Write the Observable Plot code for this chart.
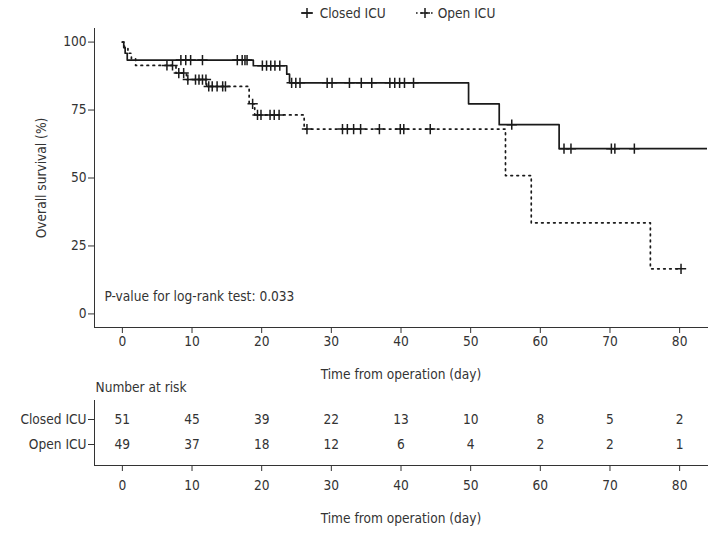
<!DOCTYPE html>
<html>
<head>
<meta charset="utf-8">
<script src="https://cdn.jsdelivr.net/npm/d3@7"></script>
<script src="https://cdn.jsdelivr.net/npm/@observablehq/plot@0.6"></script>
<style>
  body { margin: 0; background: #fff; }
  #wrap { width: 724px; font-family: "Liberation Sans Narrow", "DejaVu Sans Condensed", "Roboto", sans-serif; color: #333; }
  #legend { height: 26px; box-sizing: border-box; display: flex; justify-content: center; align-items: center; gap: 30px; padding-left: 86px; padding-right: 17px; font-size: 13.6px; }
  #legend .item { display: flex; align-items: center; gap: 4px; }
  svg { display: block; }
</style>
</head>
<body>
<div id="wrap">
  <div id="legend"></div>
  <div id="km"></div>
  <div id="risk"></div>
</div>
<script>
// ---------- data ----------
const groups = ["Closed ICU", "Open ICU"];

// Kaplan-Meier step points (time in days, survival in %)
const closedTime = [0, 0.2, 0.4, 0.7, 18.8, 23.6, 24.0, 49.7, 54.1, 62.7, 88];
const closedSurv = [100, 98.0, 95.9, 93.4, 91.3, 88.2, 85.0, 77.3, 69.6, 60.8, 60.8];
const closedCensor = [8.4, 9.1, 9.8, 11.5, 16.5, 17.2, 17.6, 17.9, 20.1, 20.7, 21.3, 21.9, 22.6, 24.3, 24.9, 25.5,
  29.4, 30.1, 32.6, 34.3, 35.8, 38.4, 39.1, 39.8, 40.5, 41.8, 55.9, 63.4, 64.4, 70.2, 70.7, 73.5];

const openTime = [0, 0.3, 0.8, 1.3, 1.9, 7.7, 9.2, 12.1, 18.2, 19.0, 26.1, 55.0, 58.7, 75.8, 80.2];
const openSurv = [100, 97.9, 95.9, 93.9, 91.4, 88.6, 86.2, 83.7, 77.3, 73.2, 68.0, 50.9, 33.5, 16.6, 16.6];
const openCensor = [6.4, 7.2, 8.1, 8.8, 9.4, 10.5, 11.0, 11.5, 12.0, 12.4, 12.9, 13.6, 14.4, 14.8, 18.7,
  19.4, 19.9, 21.2, 21.8, 22.5, 26.5, 31.6, 32.3, 33.2, 34.2, 36.9, 39.9, 40.4, 44.2, 80.2];

// number at risk table
const riskTimes = [0, 10, 20, 30, 40, 50, 60, 70, 80];
const riskClosed = [51, 45, 39, 22, 13, 10, 8, 5, 2];
const riskOpen = [49, 37, 18, 12, 6, 4, 2, 2, 1];

const yTicks = [0, 25, 50, 75, 100];
const pValueText = "P-value for log-rank test: 0.033";
const xLabel = "Time from operation (day)";
const yLabel = "Overall survival (%)";

// ---------- derived tables ----------
function curve(times, surv) { return times.map((t, i) => ({time: t, surv: surv[i]})); }
function censorPts(censor, times, surv) {
  return censor.map(t => {
    const i = d3.bisectRight(times, t) - 1;
    return {time: t, surv: surv[Math.max(0, i)]};
  });
}
const closedCurve = curve(closedTime, closedSurv);
const openCurve = curve(openTime, openSurv);
const closedMarks = censorPts(closedCensor, closedTime, closedSurv);
const openMarks = censorPts(openCensor, openTime, openSurv);
const riskRows = [
  ...riskTimes.map((t, i) => ({time: t, group: groups[0], n: riskClosed[i]})),
  ...riskTimes.map((t, i) => ({time: t, group: groups[1], n: riskOpen[i]}))
];

const FONT = '"Liberation Sans Narrow", "DejaVu Sans Condensed", "Roboto", sans-serif';
const FS = 13.6;
const INK = "#1a1a1a";
const AXIS = "#333";
const DOTS = "1.6,4.4";
const xDomain = [-4, 84];

// ---------- legend ----------
const legend = document.getElementById("legend");
groups.forEach((g, i) => {
  const item = document.createElement("div");
  item.className = "item";
  const dash = i === 1 ? `stroke-dasharray="1.6,3.4"` : "";
  const lineX1 = i === 1 ? 0 : 3;
  const lineX2 = i === 1 ? 18 : 15;
  item.innerHTML = `<svg width="18" height="14" viewBox="0 0 18 14">
      <line x1="${lineX1}" x2="${lineX2}" y1="7" y2="7" stroke="${INK}" stroke-width="1.5" ${dash}/>
      <line x1="9" x2="9" y1="2" y2="12" stroke="${INK}" stroke-width="1.5"/>
      <line x1="4" x2="14" y1="7" y2="7" stroke="${INK}" stroke-width="1.5"/>
    </svg><span>${g}</span>`;
  legend.appendChild(item);
});

// ---------- KM plot ----------
const km = Plot.plot({
  width: 724,
  height: 354,
  marginLeft: 94,
  marginRight: 17,
  marginTop: 2,
  marginBottom: 53,
  style: {fontFamily: FONT, fontSize: FS + "px", color: AXIS, background: "white", overflow: "visible"},
  x: {domain: xDomain, ticks: riskTimes, label: xLabel, labelAnchor: "center", labelArrow: "none", labelOffset: 51, tickSize: 6, tickPadding: 3},
  y: {domain: [-5, 105], ticks: yTicks, label: yLabel, labelAnchor: "center", labelArrow: "none", labelOffset: 58, tickSize: 6, tickPadding: 2},
  marks: [
    Plot.frame({anchor: "left", stroke: AXIS}),
    Plot.frame({anchor: "bottom", stroke: AXIS}),
    Plot.line(openCurve, {x: "time", y: "surv", curve: "step-after", stroke: INK, strokeWidth: 1.7, strokeDasharray: DOTS, clip: true}),
    Plot.line(closedCurve, {x: "time", y: "surv", curve: "step-after", stroke: INK, strokeWidth: 1.7, clip: true}),
    Plot.dot(openMarks, {x: "time", y: "surv", symbol: "plus", r: 3.4, stroke: INK, strokeWidth: 1.5}),
    Plot.dot(closedMarks, {x: "time", y: "surv", symbol: "plus", r: 3.4, stroke: INK, strokeWidth: 1.5}),
    Plot.text([pValueText], {text: d => d, frameAnchor: "bottom-left", dx: 10, dy: -31, textAnchor: "start", lineAnchor: "middle", fill: AXIS, fontSize: FS})
  ]
});
document.getElementById("km").appendChild(km);

// ---------- risk table ----------
const risk = Plot.plot({
  width: 724,
  height: 154,
  marginLeft: 94,
  marginRight: 17,
  marginTop: 20,
  marginBottom: 69,
  insetTop: 19,
  insetBottom: 21,
  style: {fontFamily: FONT, fontSize: FS + "px", color: AXIS, background: "white", overflow: "visible"},
  x: {domain: xDomain, ticks: riskTimes, label: xLabel, labelAnchor: "center", labelArrow: "none", labelOffset: 57, tickSize: 6, tickPadding: 9},
  y: {type: "point", domain: groups, padding: 0, label: null, tickSize: 6, tickPadding: 2},
  marks: [
    Plot.frame({anchor: "left", stroke: AXIS}),
    Plot.frame({anchor: "bottom", stroke: AXIS}),
    Plot.text(riskRows, {x: "time", y: "group", text: "n", fill: AXIS, fontSize: FS}),
    Plot.text(["Number at risk"], {text: d => d, frameAnchor: "top-left", dx: 1, dy: -13, textAnchor: "start", lineAnchor: "middle", fill: AXIS, fontSize: FS})
  ]
});
document.getElementById("risk").appendChild(risk);
</script>
</body>
</html>
